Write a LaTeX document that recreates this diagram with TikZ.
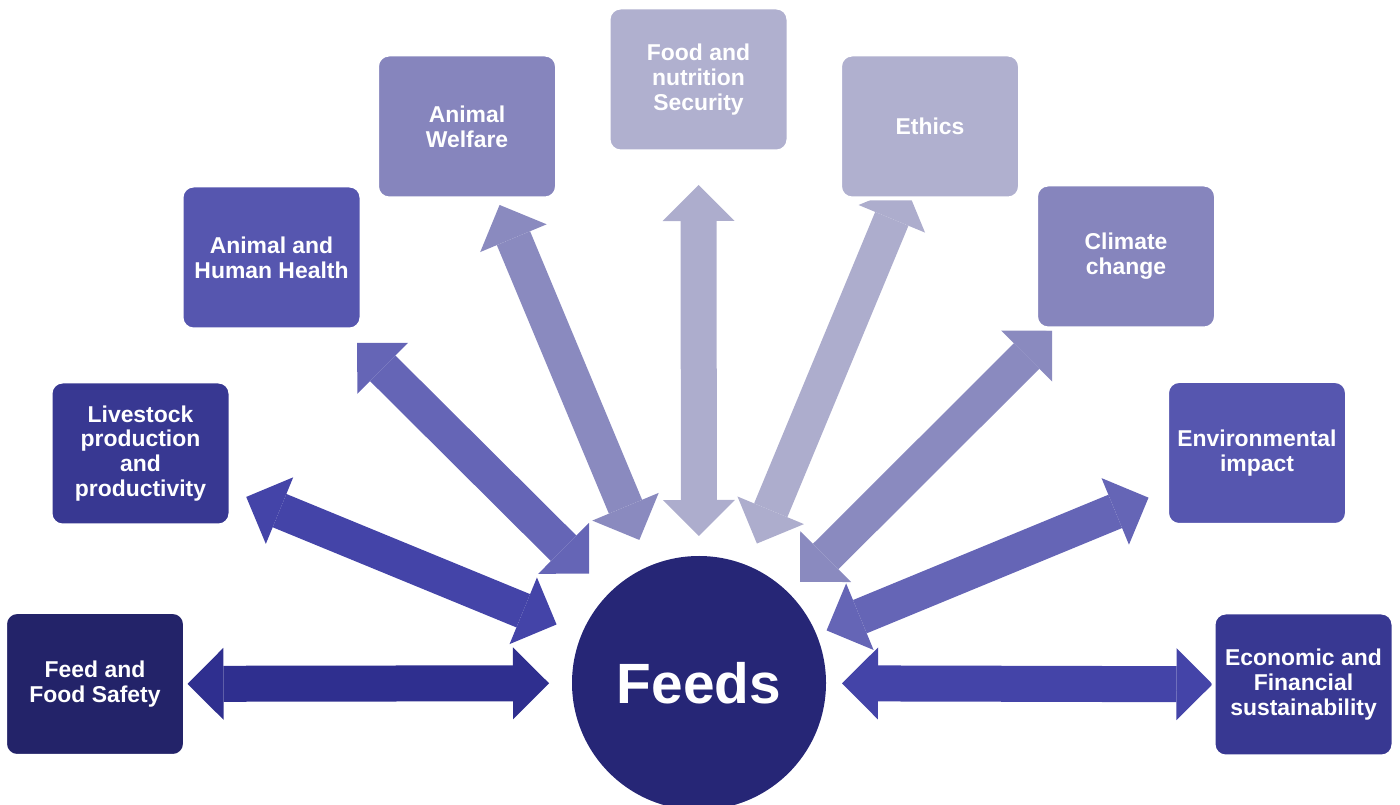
\documentclass[tikz,border=0pt]{standalone}
\usepackage{fontspec}
\setmainfont{Liberation Sans}
\usetikzlibrary{arrows.meta,backgrounds}
\definecolor{feedsblue}{HTML}{262676}
\definecolor{boxA}{HTML}{232369}
\definecolor{arrowA}{HTML}{2F2F8F}
\definecolor{boxB}{HTML}{383892}
\definecolor{arrowB}{HTML}{4444A8}
\definecolor{boxC}{HTML}{5656AF}
\definecolor{arrowC}{HTML}{6565B6}
\definecolor{boxD}{HTML}{8685BD}
\definecolor{arrowD}{HTML}{8A8ABF}
\definecolor{boxE}{HTML}{B0B0CF}
\definecolor{arrowE}{HTML}{ADADCD}
\tikzset{
  topic/.style={draw=white,line width=4bp,rounded corners=12bp,minimum width=180bp,
    minimum height=144bp,outer sep=0pt,inner sep=2bp,align=center,text=white,
    font=\bfseries\fontsize{23}{25}\selectfont},
  link/.style={line width=36bp,<->},
}
\begin{document}
\begin{tikzpicture}[>={Triangle[length=36bp 0 0,width=72bp 0 0,line width=0pt 0]},line join=miter,]
\useasboundingbox (0,0) rectangle (1400bp,805bp);
%%
\node (feeds) at (699bp,122bp) [circle,fill=feedsblue,minimum size=254bp,inner sep=0pt,outer sep=0pt,text=white,font=\bfseries\fontsize{57}{60}\selectfont] {Feeds};
  \node (fsafe) at (95bp,121bp) [topic,fill=boxA] {Feed and\\Food Safety};
  \node (livestock) at (140.5bp,351.5bp) [topic,fill=boxB] {Livestock\\production\\and\\productivity};
  \node (health) at (271.5bp,547.5bp) [topic,fill=boxC] {Animal and\\Human Health};
  \node (welfare) at (467bp,678.5bp) [topic,fill=boxD] {Animal\\Welfare};
  \node (security) at (698.5bp,725.5bp) [topic,fill=boxE] {Food and\\nutrition\\Security};
  \node (ethics) at (930bp,678.5bp) [topic,fill=boxE] {Ethics};
  \node (climate) at (1126bp,548.5bp) [topic,fill=boxD] {Climate\\change};
  \node (envimpact) at (1257bp,352bp) [topic,fill=boxC] {Environmental\\impact};
  \node (economic) at (1303.5bp,120.5bp) [topic,fill=boxB] {Economic and\\Financial\\sustainability};
%
\begin{pgfonlayer}{background}
  \draw [link,draw=arrowA,shorten <=2.5bp,shorten >=23bp] (fsafe) -- (feeds);
  \draw [link,draw=arrowB,shorten <=17bp,shorten >=27bp] (livestock) -- (feeds);
  \draw [link,draw=arrowC,shorten <=19bp,shorten >=28bp] (health) -- (feeds);
  \draw [link,draw=arrowD,shorten <=7bp,shorten >=28bp] (welfare) -- (feeds);
  \draw [link,draw=arrowE,shorten <=33.5bp,shorten >=20bp] (security) -- (feeds);
  \draw [link,draw=arrowE,shorten <=-14bp,shorten >=24bp] (ethics) -- (feeds);
  \draw [link,draw=arrowD,shorten <=3bp,shorten >=16bp] (climate) -- (feeds);
  \draw [link,draw=arrowC,shorten <=20bp,shorten >=11bp] (envimpact) -- (feeds);
  \draw [link,draw=arrowB,shorten <=1bp,shorten >=16bp] (economic) -- (feeds);
\end{pgfonlayer}
%
\end{tikzpicture}
\end{document}
